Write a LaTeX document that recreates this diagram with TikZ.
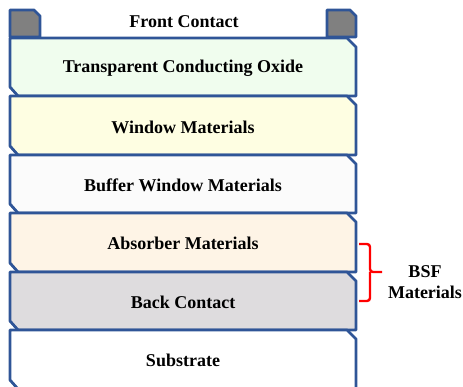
\documentclass[tikz,border=0pt]{standalone}
\usepackage{fontspec}
\setmainfont{Liberation Serif}
\usetikzlibrary{positioning}
\definecolor{edgeblue}{HTML}{2F5597}
\definecolor{tcofill}{HTML}{F0FDEE}
\definecolor{winfill}{HTML}{FEFEE2}
\definecolor{buffill}{HTML}{FBFBFB}
\definecolor{absfill}{HTML}{FEF4E6}
\definecolor{backfill}{HTML}{DEDCDE}
\definecolor{contactfill}{HTML}{808080}
% one layer of the stack: #1 top, #2 bottom, #3 fill
\newcommand{\layer}[3]{%
	\filldraw[cell, fill=#3]
		(10,#1)--(347,#1)--(356,#1+9)--(356,#2)--(18,#2)--(10,#2-9)--cycle;}
\tikzset{
	cell/.style = {draw=edgeblue, line width=2.8pt, line join=round},
	txt/.style = {font=\fontsize{18}{21}\selectfont\bfseries, align=center},
}

\begin{document}
\begin{tikzpicture}[x=1pt, y=-1pt]
		\useasboundingbox (0,0) rectangle (463,387);

		\filldraw[cell, fill=contactfill]
			(10,10)--(34,10)--(40,16)--(40,37)--(10,37)--cycle;
		\filldraw[cell, fill=contactfill]
			(327,10)--(350,10)--(356,16)--(356,37)--(327,37)--cycle;
		\node[txt] at (184,22)(front){Front Contact};

		\layer{38}{96}{tcofill}
		\layer{96}{155}{winfill}
		\layer{155}{213}{buffill}
		\layer{213}{272}{absfill}
		\layer{272}{330}{backfill}
		\layer{330}{389}{white}

		\node[txt] at (183,68)(tco){Transparent Conducting Oxide};
		\node[txt] at (183,127)(win){Window Materials};
		\node[txt] at (183,185)(buf){Buffer Window Materials};
		\node[txt] at (183,243)(abs){Absorber Materials};
		\node[txt] at (183,302)(back){Back Contact};
		\node[txt] at (183,360)(sub){Substrate};

		\node[txt] at (425,282)(bsf){BSF\\Materials};
		\draw[red, line width=2.4pt, rounded corners=3pt]
			(359,244)--(370,244)--(370,272)--(382,272)
			(370,272)--(370,301)--(359,301);
	\end{tikzpicture}
\end{document}
